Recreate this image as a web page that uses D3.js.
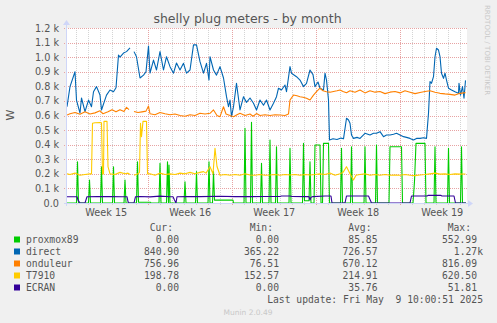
<!doctype html>
<html lang="en">
<head>
  <meta charset="utf-8">
  <title>shelly plug meters - by month</title>
  <script src="https://d3js.org/d3.v7.min.js"></script>
  <style>
    html, body { margin: 0; padding: 0; background: #f0f0f0; }
    svg { display: block; }
    text { fill: #555; font-family: "DejaVu Sans", sans-serif; }
    .mono { font-family: "DejaVu Sans Mono", monospace; font-size: 9.7px; }
  </style>
</head>
<body>
<div id="chart"></div>
<script>
// time is hours after the left edge of the graph (2025-04-07 05:24 UTC)
const startTime = Date.UTC(2025, 3, 7, 5, 24);
const spanHours = 800;

const weekLabels = ["Week 15", "Week 16", "Week 17", "Week 18", "Week 19"];
const yTicks = [0, 100, 200, 300, 400, 500, 600, 700, 800, 900, 1000, 1100, 1200];
const yTickLabels = ["0.0", "0.1 k", "0.2 k", "0.3 k", "0.4 k", "0.5 k", "0.6 k",
                     "0.7 k", "0.8 k", "0.9 k", "1.0 k", "1.1 k", "1.2 k"];

const names  = ["proxmox89", "direct", "onduleur", "T7910", "ECRAN"];
const colors = ["#00cc00", "#0066b3", "#ff8000", "#ffcc00", "#330099"];

// [hour, watts]
const proxmox89 = [[0,0],[19,0],[21,283],[23,0],[43,0],[45,158],[47,0],[67,0],[69,249],[71,0],
  [91,0],[93,249],[95,0],[114,0],[116,158],[118,0],[139,0],[141,283],[143,5],[167,5],[168,0],
  [184,0],[186,272],[188,0],[199,0],[201,283],[203,0],[204,260],[206,0],[234,0],[236,146],[238,0],
  [257,0],[259,215],[261,0],[282,0],[284,283],[286,0],[291,0],[293,215],[295,20],[332,20],[333,0],
  [354,0],[356,512],[358,0],[367,0],[369,553],[371,0],[387,0],[389,272],[391,0],[404,0],[406,432],[408,0],
  [417,0],[419,386],[421,0],[444,0],[446,375],[448,0],[471,0],[473,409],[475,15],[484,15],[486,283],[488,0],
  [494,0],[496,398],[506,398],[508,0],[511,0],[513,409],[523,409],[525,0],[547,0],[549,375],[551,0],
  [567,0],[569,386],[571,0],[594,0],[596,386],[598,0],[617,0],[619,398],[621,0],[644,0],[646,386],
  [669,386],[671,0],[692,0],[695,150],[698,409],[716,409],[718,0],[734,0],[736,386],[738,0],
  [761,0],[763,375],[765,0],[787,0],[789,386],[791,0],[798,0]];

const direct = [[0,660],[6,798],[16,900],[19,706],[26,617],[29,720],[36,626],[43,706],[49,660],[53,763],
  [59,798],[66,740],[69,638],[79,740],[86,775],[93,763],[98,790],[103,1015],[106,1000],[113,1028],
  [119,1038],[126,1063],[128,null],[134,1038],[139,1003],[146,857],[153,877],[158,900],[163,1077],
  [166,891],[173,980],[179,912],[186,1038],[193,912],[199,1003],[206,935],[213,890],[219,960],[226,912],
  [233,958],[239,890],[246,912],[253,1084],[259,1084],[266,969],[273,890],[279,958],[284,843],[286,1003],
  [293,912],[299,877],[306,935],[313,857],[319,729],[323,660],[326,706],[329,592],[333,660],[339,821],
  [346,638],[353,729],[359,690],[366,720],[373,684],[379,638],[386,706],[393,670],[399,706],[406,638],
  [413,684],[419,729],[423,787],[429,775],[436,809],[439,763],[446,935],[449,890],[459,866],[466,843],
  [473,798],[479,821],[486,912],[492,880],[496,798],[502,830],[506,787],[513,775],[516,890],[519,843],
  [523,706],[525,432],[532,440],[540,435],[548,445],[553,440],[559,581],[563,569],[566,547],[569,466],
  [573,443],[580,450],[586,443],[596,478],[606,466],[613,478],[619,478],[626,489],[633,455],[639,466],
  [646,466],[653,472],[659,478],[666,466],[673,455],[679,450],[686,443],[693,432],[699,443],[706,443],
  [713,448],[719,443],[723,615],[726,832],[729,821],[733,866],[736,1003],[739,1061],[743,1049],[746,1003],
  [749,890],[753,855],[756,890],[759,843],[763,787],[769,775],[776,763],[783,752],[784,821],[787,740],
  [791,798],[794,718],[797,841]];

const onduleur = [[0,603],[6,612],[16,620],[26,608],[36,625],[46,610],[56,618],[66,632],[72,612],[82,625],
  [90,640],[98,625],[106,640],[114,628],[119,656],[124,640],[128,null],[134,628],[142,620],[150,625],
  [158,630],[163,665],[166,612],[176,605],[186,620],[196,612],[206,605],[216,610],[226,600],[236,595],
  [246,605],[256,600],[266,615],[276,610],[286,615],[293,638],[300,600],[306,592],[313,660],[318,610],
  [326,600],[333,592],[340,605],[346,615],[356,600],[366,610],[372,595],[379,613],[386,600],[396,605],
  [406,600],[416,605],[426,603],[436,600],[443,610],[446,706],[453,740],[460,735],[466,729],[472,725],
  [479,718],[486,706],[493,740],[499,763],[506,787],[512,770],[519,763],[526,760],[533,765],[540,770],
  [546,775],[552,765],[559,756],[566,770],[576,760],[586,775],[596,755],[606,770],[616,760],[626,765],
  [636,750],[646,760],[656,765],[666,755],[676,770],[686,760],[696,750],[706,758],[716,765],[726,770],
  [736,760],[746,752],[756,748],[766,745],[776,740],[786,752],[797,757]];

const T7910 = [[0,200],[6,195],[16,205],[26,190],[36,195],[46,200],[49,200],[51,547],[56,550],[66,552],
  [69,550],[71,200],[73,200],[74,560],[80,560],[82,250],[86,200],[96,195],[106,210],[116,200],[122,205],
  [126,195],[128,null],[134,190],[142,200],[145,210],[147,547],[149,455],[152,560],[159,560],[161,200],
  [166,200],[176,190],[186,205],[196,195],[206,200],[216,195],[226,205],[236,200],[246,210],[256,200],
  [266,210],[273,215],[278,205],[286,249],[292,200],[296,375],[300,250],[306,190],[316,195],[326,190],
  [336,195],[346,190],[356,200],[366,192],[376,190],[386,195],[396,190],[406,192],[416,195],[426,190],
  [436,195],[446,192],[456,195],[466,190],[476,195],[486,192],[496,195],[506,200],[516,195],[526,205],
  [536,190],[546,200],[552,210],[559,249],[566,200],[573,158],[578,190],[586,195],[596,200],[606,190],
  [616,195],[626,190],[636,195],[646,190],[656,192],[666,190],[676,195],[686,190],[696,188],[706,192],
  [716,195],[726,200],[736,205],[746,198],[756,200],[766,195],[776,200],[786,198],[797,199]];

const ECRAN = [[0,43],[20,43],[22,20],[26,0],[36,0],[40,43],[60,44],[86,45],[110,43],[120,43],[122,10],
  [124,0],[134,0],[137,43],[146,45],[166,42],[186,47],[206,43],[212,43],[215,20],[218,0],[220,43],
  [240,44],[266,44],[306,46],[336,44],[366,44],[396,45],[426,45],[429,48],[446,48],[450,45],[480,44],
  [484,44],[486,20],[488,40],[492,44],[516,48],[528,48],[530,0],[556,0],[559,48],[603,48],[609,0],
  [686,0],[689,48],[720,48],[722,52],[748,52],[750,48],[774,48],[777,0],[798,0]];

const series = [proxmox89, direct, onduleur, T7910, ECRAN];

const cur = ["0.00", "840.90", "756.96", "198.78", "0.00"];
const min = ["0.00", "365.22", "76.51", "152.57", "0.00"];
const avg = ["85.85", "726.57", "670.12", "214.91", "35.76"];
const max = ["552.99", "1.27k", "816.09", "620.50", "51.81"];

const width = 497, height = 323;
const plot = { left: 67, right: 467, top: 28, bottom: 203 };
const hourMs = 3600e3;
const toDate = h => new Date(startTime + h * hourMs);

const x = d3.scaleUtc()
  .domain([toDate(0), toDate(spanHours)])
  .range([plot.left, plot.right]);
const y = d3.scaleLinear()
  .domain([0, 1200])
  .range([plot.bottom, plot.top]);

const svg = d3.select('#chart').append('svg')
  .attr('width', width).attr('height', height);

svg.append('rect').attr('width', width).attr('height', height).attr('fill', '#f0f0f0');
svg.append('rect')
  .attr('x', plot.left).attr('y', plot.top)
  .attr('width', plot.right - plot.left).attr('height', plot.bottom - plot.top)
  .attr('fill', '#fff');

// grid
const days = d3.utcDay.range(x.domain()[0], x.domain()[1]);
const mondays = d3.utcMonday.range(x.domain()[0], x.domain()[1]);
const crisp = v => Math.round(v) + 0.5;

svg.append('g').selectAll('line').data(days.filter(d => d.getUTCDay() !== 1)).join('line')
  .attr('x1', d => crisp(x(d))).attr('x2', d => crisp(x(d)))
  .attr('y1', plot.top).attr('y2', plot.bottom + 2)
  .attr('stroke', '#d4d4d4').attr('stroke-dasharray', '1,1');

svg.append('g').selectAll('line').data(yTicks.slice(1)).join('line')
  .attr('x1', plot.left - 3).attr('x2', plot.right + 1)
  .attr('y1', d => crisp(y(d))).attr('y2', d => crisp(y(d)))
  .attr('stroke', '#e7a3a3').attr('stroke-dasharray', '1,1');

svg.append('g').selectAll('line').data(mondays).join('line')
  .attr('x1', d => crisp(x(d))).attr('x2', d => crisp(x(d)))
  .attr('y1', plot.top).attr('y2', plot.bottom + 3)
  .attr('stroke', '#e7a3a3').attr('stroke-dasharray', '1,1');

// series
svg.append('clipPath').attr('id', 'clip').append('rect')
  .attr('x', plot.left).attr('y', plot.top - 2)
  .attr('width', plot.right - plot.left).attr('height', plot.bottom - plot.top + 2);

const line = d3.line()
  .defined(d => d[1] != null)
  .x(d => x(toDate(d[0])))
  .y(d => y(d[1]));

const lines = svg.append('g').attr('clip-path', 'url(#clip)');
series.forEach((s, i) => {
  lines.append('path')
    .datum(s)
    .attr('fill', 'none')
    .attr('stroke', colors[i])
    .attr('stroke-width', 1.1)
    .attr('stroke-linejoin', 'round')
    .attr('d', line);
});

// axes
const axisColor = '#cfd6f8';
svg.append('line')
  .attr('x1', plot.left - 0.5).attr('x2', plot.left - 0.5)
  .attr('y1', plot.bottom + 3).attr('y2', plot.top - 4)
  .attr('stroke', axisColor);
svg.append('line')
  .attr('x1', plot.left - 3).attr('x2', plot.right + 3)
  .attr('y1', plot.bottom + 0.5).attr('y2', plot.bottom + 0.5)
  .attr('stroke', axisColor);
svg.append('path')
  .attr('d', `M${plot.left - 4},${plot.top - 3}L${plot.left - 0.5},${plot.top - 8}L${plot.left + 3},${plot.top - 3}Z`)
  .attr('fill', axisColor);
svg.append('path')
  .attr('d', `M${plot.right + 1},${plot.bottom - 3}L${plot.right + 6},${plot.bottom + 0.5}L${plot.right + 1},${plot.bottom + 4}Z`)
  .attr('fill', axisColor);

svg.append('g').selectAll('text').data(yTicks).join('text')
  .attr('x', 59).attr('y', d => y(d) + 3.5)
  .attr('text-anchor', 'end').attr('font-size', '9.7px')
  .text((d, i) => yTickLabels[i]);

svg.append('g').selectAll('text').data(weekLabels).join('text')
  .attr('x', (d, i) => x(d3.utcHour.offset(d3.utcMonday.offset(mondays[0], i - 1), 84)))
  .attr('y', 216)
  .attr('text-anchor', 'middle').attr('font-size', '9.7px')
  .text(d => d);

svg.append('text')
  .attr('x', width / 2 - 1).attr('y', 23)
  .attr('text-anchor', 'middle').attr('font-size', '12.5px')
  .text('shelly plug meters - by month');

svg.append('text')
  .attr('transform', 'translate(14,115) rotate(-90)')
  .attr('text-anchor', 'middle').attr('font-size', '11px')
  .text('W');

svg.append('text')
  .attr('transform', 'translate(485,5) rotate(90)')
  .attr('font-size', '7px').style('fill', '#c8c8c8')
  .text('RRDTOOL / TOBI OETIKER');

// legend
const rowY = i => 243 + i * 12;
const legend = svg.append('g').attr('class', 'mono');
const cols = [
  { head: 'Cur:', end: 179, vals: cur },
  { head: 'Min:', end: 279, vals: min },
  { head: 'Avg:', end: 377.5, vals: avg },
  { head: 'Max:', end: 477, vals: max }
];
cols.forEach(c => {
  legend.append('text').attr('class', 'mono')
    .attr('x', c.end - 6).attr('y', 231).attr('text-anchor', 'end').text(c.head);
  c.vals.forEach((v, i) => {
    const suffix = /k$/.test(v);
    legend.append('text').attr('class', 'mono')
      .attr('x', suffix ? c.end + 6 : c.end).attr('y', rowY(i))
      .attr('text-anchor', 'end').text(v);
  });
});
names.forEach((n, i) => {
  legend.append('rect')
    .attr('x', 14).attr('y', rowY(i) - 6.5).attr('width', 6).attr('height', 6)
    .attr('fill', colors[i]);
  legend.append('text').attr('class', 'mono')
    .attr('x', 26).attr('y', rowY(i)).text(n);
});
legend.append('text').attr('class', 'mono')
  .attr('x', 483).attr('y', 303).attr('text-anchor', 'end')
  .attr('xml:space', 'preserve')
  .text('Last update: Fri May  9 10:00:51 2025');

svg.append('text')
  .attr('x', 248).attr('y', 315)
  .attr('text-anchor', 'middle').attr('font-size', '7.5px').style('fill', '#c8c8c8')
  .text('Munin 2.0.49');
</script>
</body>
</html>
